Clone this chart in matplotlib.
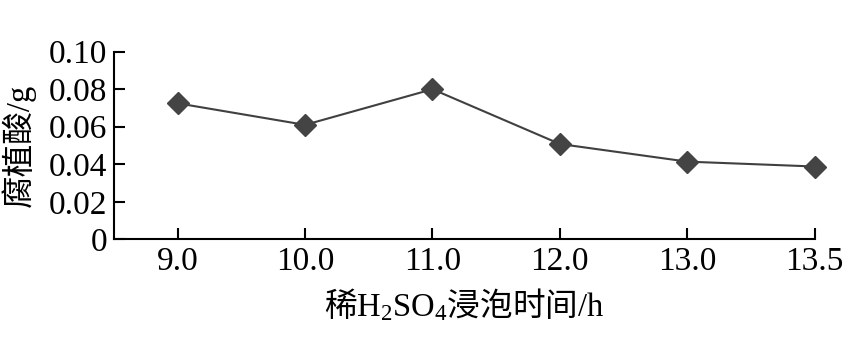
import matplotlib
matplotlib.use('Agg')
import matplotlib.pyplot as plt

# Data
soak_hours = ['9.0', '10.0', '11.0', '12.0', '13.0', '13.5']
humic_acid = [0.0725, 0.061, 0.080, 0.0508, 0.0414, 0.0388]
y_ticks = [0, 0.02, 0.04, 0.06, 0.08, 0.10]
y_tick_labels = ['0', '0.02', '0.04', '0.06', '0.08', '0.10']

plt.rcParams['font.family'] = ['Liberation Serif', 'Noto Sans CJK SC']
plt.rcParams['mathtext.fontset'] = 'custom'
plt.rcParams['mathtext.rm'] = 'Liberation Serif'

fig = plt.figure(figsize=(8.43, 3.52), dpi=100)
ax = fig.add_axes([0.1352, 0.3202, 0.8312, 0.5329])

x = range(len(soak_hours))
ax.plot(x, humic_acid, color='#404040', lw=1.5, marker='D', ms=11,
        markerfacecolor='#444444', markeredgecolor='#444444', clip_on=False)

ax.set_xlim(-0.5, len(soak_hours) - 1)
ax.set_ylim(0, 0.10)
ax.set_xticks(list(x))
ax.set_xticklabels(soak_hours)
ax.set_yticks(y_ticks)
ax.set_yticklabels(y_tick_labels)

for side in ['top', 'right']:
    ax.spines[side].set_visible(False)
for side in ['left', 'bottom']:
    ax.spines[side].set_linewidth(1.5)
ax.tick_params(direction='in', length=8, width=1.5, labelsize=24, pad=5, color='black')

ax.set_ylabel('腐植酸/g', fontsize=23.5, labelpad=9)
ax.set_xlabel(r'稀$\mathrm{H_2SO_4}$浸泡时间$\mathrm{/h}$', fontsize=23.5,
              family='Noto Sans CJK SC', labelpad=7)

fig.savefig('out.png', dpi=100)
